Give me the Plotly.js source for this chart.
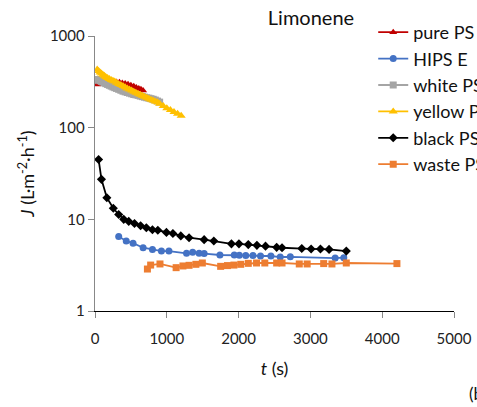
<!DOCTYPE html>
<html>
<head>
<meta charset="utf-8">
<script src="https://cdn.plot.ly/plotly-3.0.1.min.js"></script>
<style>html,body{margin:0;padding:0;background:#fff;}#chart{width:477px;height:407px;}</style>
</head>
<body>
<div id="chart"></div>
<script>
// pure PS
const pureT = [30,60,100,150,200,250,300,340,380,420,460,500,540,575,610,640,670];
const pureJ = [295,298,302,308,312,314,314,312,308,303,297,290,283,275,268,262,255];
// HIPS E
const hipsT = [330,435,530,670,800,925,1030,1275,1360,1450,1520,1740,1940,2010,2100,2200,2305,2450,2580,2720,3345,3465];
const hipsJ = [6.5,5.8,5.5,4.9,4.7,4.5,4.5,4.26,4.37,4.26,4.23,4.08,4.08,4.05,4.02,4.02,3.98,3.98,3.88,3.9,3.78,3.82];
// white PS
const whiteT = [30,50,70,90,110,130,150,175,200,225,250,275,300,330,360,390,420,450,480,510,540,570,600,630,660,690,720,750,780,810,840,870,900];
const whiteJ = [335,330,325,320,314,308,302,296,290,284,278,273,268,262,256,250,246,242,238,234,230,228,225,221,218,215,212,210,207,204,200,195,190];
// yellow PS
const yellowT = [30,50,70,90,110,130,150,175,200,225,250,275,300,330,360,390,420,450,480,510,540,570,600,630,660,690,720,750,780,810,840,870,900,950,1000,1050,1100,1150,1200];
const yellowJ = [430,415,400,390,378,368,358,348,340,332,325,318,310,300,292,284,276,268,261,254,247,241,235,229,223,218,212,207,202,198,193,189,182,172,163,156,148,142,135];
// black PS
const blackT = [50,90,165,255,330,400,470,550,635,715,800,875,995,1085,1195,1310,1520,1655,1900,2005,2135,2255,2375,2530,2605,2880,3010,3140,3260,3500];
const blackJ = [45,27.3,17.2,13.2,11.3,10.0,9.5,9.0,8.5,8.1,7.7,7.6,7.2,7.0,6.6,6.3,6.0,5.8,5.4,5.4,5.3,5.2,5.1,4.95,4.9,4.8,4.75,4.75,4.7,4.5];
// waste PS
const wasteT = [730,775,905,1130,1225,1310,1405,1495,1750,1845,1935,2030,2135,2250,2365,2530,2605,2845,2955,3185,3300,3500,4205];
const wasteJ = [2.87,3.17,3.26,2.97,3.10,3.15,3.23,3.34,3.07,3.13,3.17,3.23,3.31,3.34,3.34,3.34,3.34,3.26,3.26,3.29,3.26,3.34,3.29];

const names = ['pure PS','HIPS E','white PS','yellow PS','black PS','waste PS'];
const colors = ['#C00000','#4472C4','#A5A5A5','#FFC000','#000000','#ED7D31'];
const symbols = ['triangle-up','circle','square','triangle-up','diamond','square'];
const sizes = [7,7,7,8,7,7];
const xs = [pureT,hipsT,whiteT,yellowT,blackT,wasteT];
const ys = [pureJ,hipsJ,whiteJ,yellowJ,blackJ,wasteJ];

const data = names.map((n,i)=>({
  type:'scatter', mode:'lines+markers', name:n, x:xs[i], y:ys[i],
  line:{color:colors[i], width:1.8},
  marker:{color:colors[i], symbol:symbols[i], size:sizes[i]}
}));

const FONT = 'Lato, "Open Sans", sans-serif';
const layout = {
  width:477, height:407,
  margin:{l:95, r:23, t:36, b:96, autoexpand:false},
  paper_bgcolor:'#fff', plot_bgcolor:'#fff',
  font:{family:FONT, color:'#404040', size:15},
  title:{text:'Limonene', font:{family:FONT, size:20, color:'#111'}, x:311/477, xref:'container', xanchor:'center', y:1-18/407, yref:'container', yanchor:'middle'},
  showlegend:true,
  legend:{x:0.775, y:1.08, xanchor:'left', yanchor:'top', bgcolor:'rgba(0,0,0,0)', font:{family:FONT, size:18, color:'#111'}, itemwidth:30},
  xaxis:{range:[0,5000], dtick:1000, tick0:0, showgrid:false, zeroline:false, showline:true, linecolor:'#000', linewidth:1.3,
         ticks:'outside', ticklen:6, tickcolor:'#888', ticklabelstandoff:8, tickfont:{size:15, color:'#222'},
         title:{text:'<i>t</i> (s)', font:{size:18, color:'#111'}, standoff:16}},
  yaxis:{type:'log', range:[0,3], tickvals:[1,10,100,1000], ticktext:['1','10','100','1000'], showgrid:false, zeroline:false,
         showline:true, linecolor:'#888', linewidth:1.3, ticks:'outside', ticklen:6, tickcolor:'#888', tickfont:{size:15, color:'#222'},
         title:{text:'<i>J</i> (L·m<sup>-2</sup>·h<sup>-1</sup>)', font:{size:18, color:'#111'}, standoff:10}},
  annotations:[{text:'(b)', xref:'paper', yref:'paper', x:(467-95)/359, y:(311-393)/275, xanchor:'left', yanchor:'middle', showarrow:false, font:{family:FONT, size:17, color:'#111'}}]
};
Plotly.newPlot('chart', data, layout, {displayModeBar:false, staticPlot:true});
</script>
</body>
</html>
